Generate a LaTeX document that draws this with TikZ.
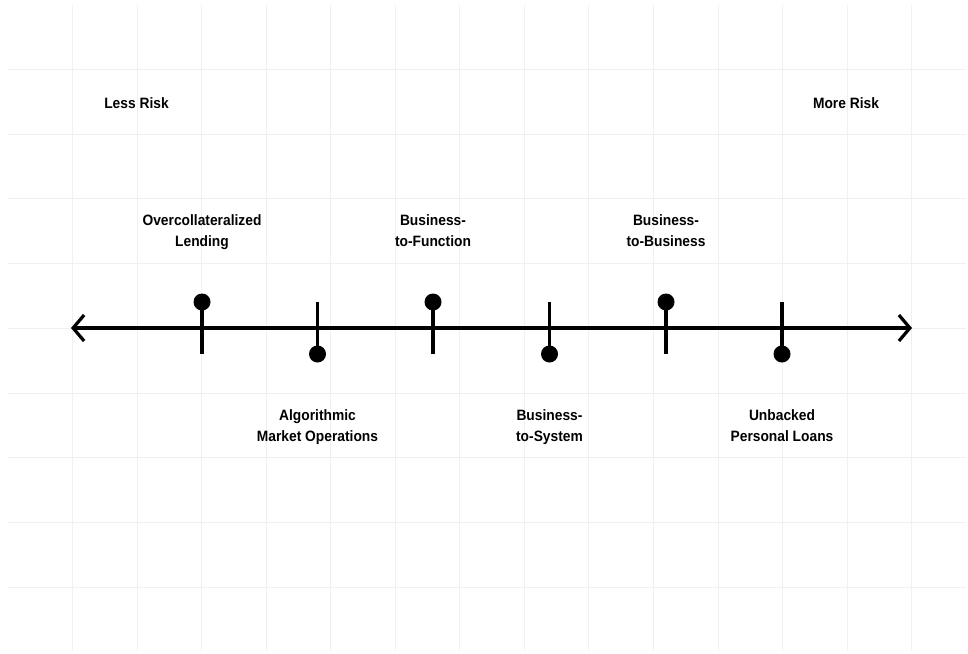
\documentclass[tikz,border=0pt]{standalone}
\usepackage{fontspec}
\setmainfont{Liberation Sans}[FakeStretch=0.92]
\usetikzlibrary{arrows.meta}
\begin{document}
\begin{tikzpicture}[x=1pt,y=-1pt,
  gridline/.style={draw=black!6,line width=0.8pt},
  axisline/.style={line width=3.6pt,
    {Straight Barb[length=11pt,width=26pt,line width=3.2pt]}-{Straight Barb[length=11pt,width=26pt,line width=3.2pt]}},
  tickline/.style={line width=3.4pt},
  dot/.style={circle,fill=black,inner sep=0pt,minimum size=17pt},
  lbl/.style={font=\bfseries\fontsize{15}{21}\selectfont,align=center,inner sep=0pt,anchor=north}]
\useasboundingbox (0,0) rectangle (968,653);
\fill[white] (0,0) rectangle (968,653);
% grid
\foreach \i in {0,...,13} {
  \draw[gridline] ({72.4+64.55*\i},5) -- ({72.4+64.55*\i},651);
}
\foreach \j in {0,...,8} {
  \draw[gridline] (8,{69.3+64.75*\j}) -- (966,{69.3+64.75*\j});
}
% axis
\coordinate (left) at (71,328);
\coordinate (right) at (912,328);
\draw[axisline] (left) -- (right);
% ticks
\foreach \n/\x/\up in {a/202/1,b/317.5/0,c/433/1,d/549.5/0,e/666/1,f/782/0} {
  \coordinate (\n top) at (\x,302);
  \coordinate (\n bot) at (\x,354);
  \draw[tickline] (\n top) -- (\n bot);
  \ifnum\up=1
    \node[dot] (\n dot) at (\n top) {};
  \else
    \node[dot] (\n dot) at (\n bot) {};
  \fi
}
% labels
\node[lbl] (less) at (136.5,97) {Less Risk};
\node[lbl] (more) at (846,97) {More Risk};
\node[lbl] (la) at (202,214) {Overcollateralized\\Lending};
\node[lbl] (lc) at (433,214) {Business-\\to-Function};
\node[lbl] (le) at (666,214) {Business-\\to-Business};
\node[lbl] (lb) at (317.5,409) {Algorithmic\\Market Operations};
\node[lbl] (ld) at (549.5,409) {Business-\\to-System};
\node[lbl] (lf) at (782,409) {Unbacked\\Personal Loans};
\end{tikzpicture}
\end{document}
